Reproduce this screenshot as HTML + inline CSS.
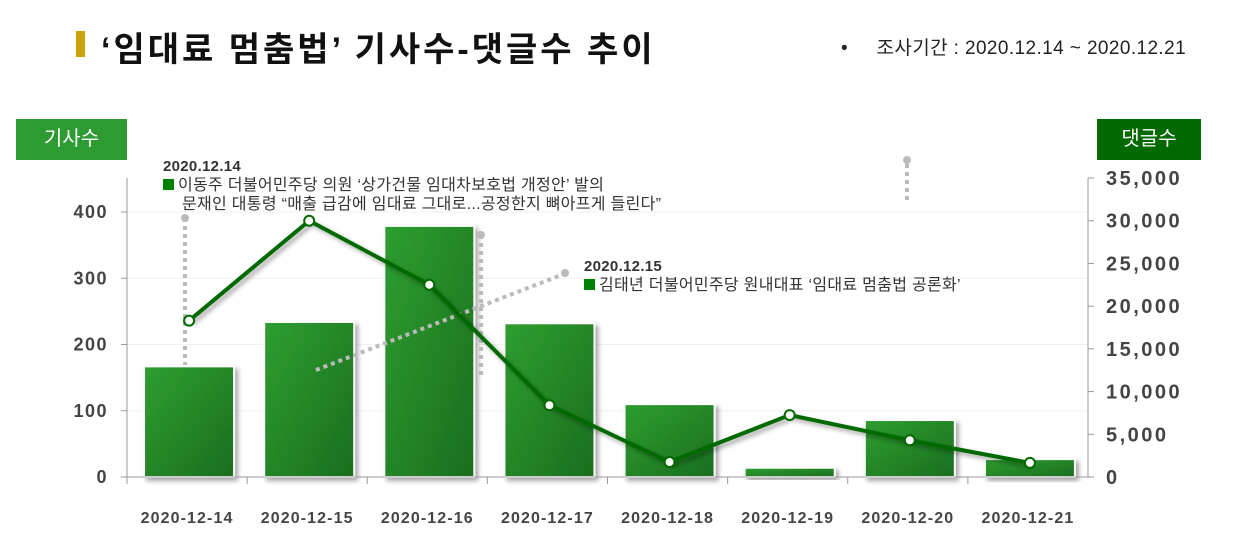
<!DOCTYPE html>
<html><head><meta charset="utf-8"><style>
body{margin:0;background:#fff;width:1233px;height:542px;overflow:hidden;font-family:"Liberation Sans","Noto Sans CJK KR",sans-serif;position:relative}
.abs{position:absolute}
</style></head><body>
<div class="abs" style="left:76px;top:31px;width:9px;height:26px;background:#c9a20e"></div>
<div class="abs" style="left:101px;top:22px;font-size:34px;letter-spacing:3px;font-weight:bold;color:#111;white-space:nowrap">‘임대료 멈춤법’ 기사수-댓글수 추이</div>
<div class="abs" style="left:841px;top:33px;font-size:19px;letter-spacing:0.4px;color:#222;white-space:nowrap">•&nbsp;&nbsp;&nbsp;&nbsp;&nbsp;조사기간 : 2020.12.14 ~ 2020.12.21</div>
<div class="abs" style="left:16px;top:119px;width:111px;height:41px;background:#2e9a32;color:#fff;font-size:20px;line-height:41px;text-align:center">기사수</div>
<div class="abs" style="left:1097px;top:119px;width:104px;height:41px;background:#006a00;color:#fff;font-size:20px;line-height:41px;text-align:center">댓글수</div>
<svg class="abs" style="left:0;top:0" width="1233" height="542" id="chart">
<defs>
<linearGradient id="bg" x1="0" y1="0" x2="1" y2="1"><stop offset="0" stop-color="#2e9e30"/><stop offset="1" stop-color="#1a6e1e"/></linearGradient>
<filter id="sh" x="-20%" y="-20%" width="150%" height="150%"><feDropShadow dx="3" dy="3" stdDeviation="2.5" flood-color="#000" flood-opacity="0.35"/></filter>
</defs>
<g id="grid"></g><g id="bars"></g>
<g stroke="#bbb" stroke-width="4" stroke-dasharray="4,4" fill="#bbb">
<line x1="185" y1="218" x2="185" y2="365"/><circle cx="185" cy="218" r="4" stroke="none"/>
<line x1="481" y1="235" x2="481" y2="375"/><circle cx="481" cy="235" r="4" stroke="none"/>
<line x1="316" y1="370" x2="564" y2="274"/><circle cx="565" cy="273" r="4" stroke="none"/>
<line x1="907" y1="164" x2="907" y2="204"/><circle cx="907" cy="160" r="4" stroke="none"/>
</g>
<g id="line"></g><g id="axes"></g>
</svg>
<div class="abs" style="left:163px;top:157px;font-size:16px;letter-spacing:0.3px;color:#333;line-height:19px;white-space:nowrap"><b style="font-size:15px">2020.12.14</b><br><span style="display:inline-block;width:11px;height:11px;background:#008000;margin-right:4px"></span>이동주 더불어민주당 의원 ‘상가건물 임대차보호법 개정안’ 발의<br>&nbsp;&nbsp;&nbsp;&nbsp;문재인 대통령 “매출 급감에 임대료 그대로...공정한지 뼈아프게 들린다”</div>
<div class="abs" style="left:584px;top:257px;font-size:16px;letter-spacing:0.3px;color:#333;line-height:19px;white-space:nowrap"><b style="font-size:15px">2020.12.15</b><br><span style="display:inline-block;width:11px;height:11px;background:#008000;margin-right:4px"></span>김태년 더불어민주당 원내대표 ‘임대료 멈춤법 공론화’</div>
<script>
const categories=["2020-12-14","2020-12-15","2020-12-16","2020-12-17","2020-12-18","2020-12-19","2020-12-20","2020-12-21"];
const articles=[167,234,379,232,110,14,86,27];
const comments=[18300,30000,22500,8400,1750,7250,4300,1650];
const leftTicks=[0,100,200,300,400];
const rightTicks=[0,5000,10000,15000,20000,25000,30000,35000];
const NS="http://www.w3.org/2000/svg";
const X0=127,X1=1088,Y0=477;
const band=(X1-X0)/categories.length;
const yL=v=>Y0-v*(265/400);
const yR=v=>Y0-v*(299/35000);
const xc=i=>X0+band*(i+0.5)+2;
function mk(t,a,p){const e=document.createElementNS(NS,t);for(const k in a)e.setAttribute(k,a[k]);p.appendChild(e);return e;}
const G=document.getElementById('grid'),B=document.getElementById('bars'),L=document.getElementById('line'),A=document.getElementById('axes');
leftTicks.forEach(v=>{if(v>0){const g=mk('line',{x1:X0,x2:X1,y1:yL(v),y2:yL(v),stroke:'#f0f0f0'},G);

}
const t=mk('text',{x:108,y:yL(v)+6,'text-anchor':'end','font-size':18,'letter-spacing':1.5,'font-weight':'bold',fill:'#444'},A);t.textContent=v;


mk('line',{x1:X0-6,x2:X0,y1:yL(v),y2:yL(v),stroke:'#999'},A);});
rightTicks.forEach(v=>{const t=mk('text',{x:1106,y:yR(v)+7,'font-size':20,'letter-spacing':2.5,'font-weight':'bold',fill:'#444'},A);t.textContent=v.toLocaleString('en-US');


mk('line',{x1:X1,x2:X1+6,y1:yR(v),y2:yR(v),stroke:'#999'},A);});
mk('line',{x1:X0,x2:X0,y1:178,y2:Y0,stroke:'#999'},A);
mk('line',{x1:X1,x2:X1,y1:178,y2:Y0,stroke:'#999'},A);
mk('line',{x1:X0,x2:X1,y1:Y0,y2:Y0,stroke:'#999'},A);
categories.forEach((c,i)=>{
mk('line',{x1:X0+band*i,x2:X0+band*i,y1:Y0,y2:Y0+7,stroke:'#999'},A);
const r=mk('rect',{x:xc(i)-45,y:yL(articles[i]),width:90,height:Y0-yL(articles[i]),fill:'url(#bg)',stroke:'#fff','stroke-width':2,filter:'url(#sh)'},B);


const t=mk('text',{x:xc(i)-2,y:523,'text-anchor':'middle','font-size':16,'letter-spacing':1.1,'font-weight':'bold',fill:'#444'},A);t.textContent=c;

});
const pts=comments.map((v,i)=>xc(i)+','+yR(v)).join(' ');
const pl=mk('polyline',{points:pts,fill:'none',stroke:'#006a00','stroke-width':4,filter:'url(#sh)'},L);


comments.forEach((v,i)=>{const c=mk('circle',{cx:xc(i),cy:yR(v),r:5,fill:'#fff',stroke:'#006a00','stroke-width':2},L);

});
</script>
</body></html>
